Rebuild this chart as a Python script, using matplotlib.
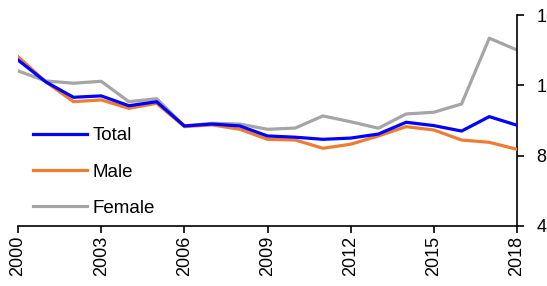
import matplotlib
matplotlib.use("Agg")
import matplotlib.pyplot as plt

years = list(range(2000, 2019))
total = [13.44, 12.2, 11.32, 11.4, 10.84, 11.07, 9.69, 9.80, 9.69, 9.12,
         9.05, 8.93, 9.0, 9.23, 9.9, 9.71, 9.4, 10.22, 9.73]
male = [13.63, 12.2, 11.07, 11.17, 10.69, 10.98, 9.65, 9.75, 9.5, 8.93,
        8.89, 8.42, 8.65, 9.12, 9.65, 9.46, 8.89, 8.76, 8.36]
female = [12.82, 12.25, 12.12, 12.23, 11.07, 11.24, 9.69, 9.84, 9.8, 9.5,
          9.57, 10.26, 9.93, 9.56, 10.37, 10.47, 10.94, 14.68, 14.01]
x_ticks = [2000, 2003, 2006, 2009, 2012, 2015, 2018]
y_ticks = [4, 8, 12, 16]

plt.rcParams['font.family'] = ['Liberation Sans', 'DejaVu Sans']

fig = plt.figure(figsize=(5.47, 2.86), dpi=100)
ax = fig.add_axes([18 / 547, 1 - 226 / 286, (517 - 18) / 547, (226 - 15) / 286])

ax.plot(years, total, color='#0000ff', lw=2.3, label='Total', zorder=4)
ax.plot(years, male, color='#ed7d31', lw=2.3, label='Male', zorder=3)
ax.plot(years, female, color='#a5a5a5', lw=2.3, label='Female', zorder=2)

ax.set_xlim(2000, 2018)
ax.set_ylim(4, 16)
ax.set_xticks(x_ticks)
ax.set_xticklabels([str(y) for y in x_ticks], rotation=90, fontsize=13)
ax.set_yticks(y_ticks)
ax.set_yticklabels([str(v) for v in y_ticks], fontsize=13)

# y-axis on the right, labels partly cut by the figure edge like the source
ax.yaxis.tick_right()
ax.spines['left'].set_visible(False)
ax.spines['top'].set_visible(False)
for s in ['bottom', 'right']:
    ax.spines[s].set_linewidth(1.2)
ax.tick_params(axis='x', direction='out', length=5, width=1.2, pad=2)
ax.tick_params(axis='y', direction='out', length=5, width=1.2, pad=9)

ax.legend(loc='upper left', bbox_to_anchor=(0.003, 0.53), frameon=False,
          fontsize=13.5, handlelength=2.9, handletextpad=0.3, labelspacing=1.02,
          borderaxespad=0.3)

fig.savefig('out.png', dpi=100)
